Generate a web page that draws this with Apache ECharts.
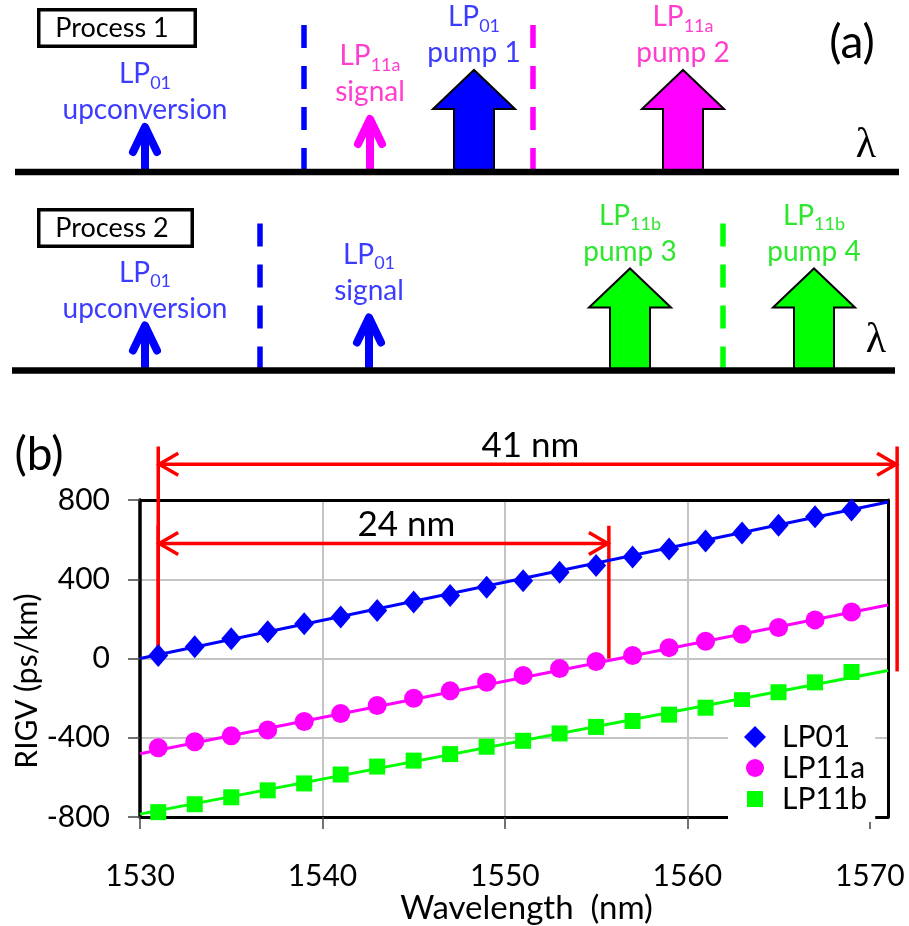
<!DOCTYPE html>
<html>
<head>
<meta charset="utf-8">
<script src="https://cdn.jsdelivr.net/npm/echarts@6/dist/echarts.min.js"></script>
<style>
    html, body {margin: 0; padding: 0; background: #fff;}
    #chart {width: 909px; height: 926px;}
</style>
</head>
<body>
<div id="chart"></div>
<script>
    // ---- (b) RIGV vs wavelength ----
    const wavelength = [1531, 1533, 1535, 1537, 1539, 1541, 1543, 1545, 1547, 1549,
        1551, 1553, 1555, 1557, 1559, 1561, 1563, 1565, 1567, 1569]
    const lp01 = [15, 60, 100, 135, 175, 210, 243, 285, 318, 360,
        392, 435, 470, 513, 553, 593, 633, 672, 715, 750]
    const lp11a = [-450, -420, -390, -360, -318, -277, -237, -200, -163, -120,
        -85, -50, -15, 15, 55, 87, 122, 157, 195, 235]
    const lp11b = [-775, -735, -700, -665, -630, -585, -545, -515, -482, -445,
        -415, -378, -345, -315, -283, -248, -210, -170, -120, -68]
    // trend lines, value at the two ends of the axis
    const fitWl = [1530, 1571]
    const lp01Fit = [0, 790]
    const lp11aFit = [-480, 270]
    const lp11bFit = [-785, -60]
    const xTicks = [1530, 1540, 1550, 1560, 1570]

    // red spans: from / to (nm), arrow level, top of bars, foot of right bar (ps/km), label centre (nm)
    const spanLabel = ['41 nm', '24 nm']
    const spanFrom = [1531, 1531]
    const spanTo = [1571.5, 1555.7]
    const spanArrow = [980, 580]
    const spanTop = [1070, 670]
    const spanFoot = [-65, 0]
    const spanLabelX = [1551.4, 1544.6]

    // ---- (a) schematic: waves along the λ line of each process ----
    const rowName = ['Process 1', 'Process 2']
    const rowFrom = [15, 12]
    const rowTo = [899, 895]
    const waveRow = [0, 0, 0, 0, 1, 1, 1, 1]
    const waveX = [145, 370, 474, 683, 145, 369, 630, 814]
    const waveMode = ['01', '11a', '01', '11a', '01', '01', '11b', '11b']
    const waveRole = ['upconversion', 'signal', 'pump 1', 'pump 2', 'upconversion', 'signal', 'pump 3', 'pump 4']
    const cutRow = [0, 0, 1, 1]
    const cutX = [304, 533, 260, 723]
    const cutMode = ['01', '11a', '01', '11b']

    const FONT = 'Lato'
    const modeFill = {'01': '#0000ff', '11a': '#ff00ff', '11b': '#00ff00'}
    const modeText = {'01': '#3c3cff', '11a': '#ff3dcf', '11b': '#2ee62e'}

    const chart = echarts.init(document.getElementById('chart'))

    function drawWave(params, api) {
        const i = api.value(2)
        const p = api.coord([api.value(0), api.value(1)])
        const x = p[0], y = p[1]
        const fill = modeFill[waveMode[i]]
        const kids = []
        let lift
        if (waveRole[i].indexOf('pump') === 0) {
            kids.push({
                type: 'polygon',
                shape: {points: [[x - 20, y], [x - 20, y - 63], [x - 41, y - 63], [x, y - 102],
                    [x + 41, y - 63], [x + 20, y - 63], [x + 20, y]]},
                style: {fill: fill, stroke: '#000', lineWidth: 2}
            })
            lift = 137
        } else {
            const h = waveRole[i] === 'signal' ? 53 : 45
            kids.push({
                type: 'line',
                shape: {x1: x, y1: y, x2: x, y2: y - h},
                style: {stroke: fill, lineWidth: 8}
            })
            kids.push({
                type: 'polyline',
                shape: {points: [[x - 12, y - h + 25], [x, y - h], [x + 12, y - h + 25]]},
                style: {stroke: fill, fill: 'none', lineWidth: 8, lineCap: 'round', lineJoin: 'round'}
            })
            lift = waveRole[i] === 'signal' ? 98 : 80
        }
        kids.push({
            type: 'text',
            x: x,
            y: y - lift,
            style: {
                text: '{m|LP}{s|' + waveMode[i] + '}\n{m|' + waveRole[i] + '}',
                fill: modeText[waveMode[i]],
                align: 'center',
                verticalAlign: 'middle',
                fontFamily: FONT,
                fontSize: 28,
                rich: {
                    m: {fontSize: 28, lineHeight: 36, fontFamily: FONT},
                    s: {fontSize: 18, lineHeight: 18, verticalAlign: 'bottom', fontFamily: FONT}
                }
            }
        })
        return {type: 'group', children: kids}
    }

    function drawCut(params, api) {
        const i = api.value(2)
        const p = api.coord([api.value(0), api.value(1)])
        return {
            type: 'line',
            shape: {x1: p[0], y1: p[1] - 147, x2: p[0], y2: p[1]},
            style: {stroke: modeFill[cutMode[i]], lineWidth: 5.5, lineDash: [23, 18]}
        }
    }

    function drawRow(params, api) {
        const a = api.coord([api.value(0), api.value(1)])
        const b = api.coord([api.value(2), api.value(1)])
        return {
            type: 'line',
            shape: {x1: a[0], y1: a[1], x2: b[0], y2: b[1]},
            style: {stroke: '#000', lineWidth: 6.5}
        }
    }

    function drawSpan(params, api) {
        const from = api.value(0), to = api.value(1), ay = api.value(2)
        const top = api.value(3), foot = api.value(4), lx = api.value(5), i = api.value(6)
        const a = api.coord([from, ay]), b = api.coord([to, ay])
        const lt = api.coord([from, top]), lb = api.coord([from, 0])
        const rt = api.coord([to, top]), rb = api.coord([to, foot])
        const lab = api.coord([lx, ay])
        const red = {stroke: '#ff0000', lineWidth: 3.5, fill: 'none'}
        const seg = (p, q) => ({type: 'line', shape: {x1: p[0], y1: p[1], x2: q[0], y2: q[1]}, style: red})
        return {
            type: 'group',
            children: [
                seg(lt, lb), seg(rt, rb), seg(a, b),
                {type: 'polyline', shape: {points: [[a[0] + 20, a[1] - 11], [a[0] + 1, a[1]], [a[0] + 20, a[1] + 11]]}, style: red},
                {type: 'polyline', shape: {points: [[b[0] - 20, b[1] - 11], [b[0] - 1, b[1]], [b[0] - 20, b[1] + 11]]}, style: red},
                {
                    type: 'text', x: lab[0], y: lab[1] - 19,
                    style: {text: spanLabel[i], fill: '#000', fontFamily: FONT, fontSize: 35, align: 'center', verticalAlign: 'middle'}
                }
            ]
        }
    }

    const pairs = vals => wavelength.map((w, i) => [w, vals[i]])
    const fitPairs = vals => fitWl.map((w, i) => [w, vals[i]])

    // 图例文字往右推，让小图标对齐
    const legendText = pad => ({fontSize: 30, lineHeight: 31, color: '#000', fontFamily: FONT, padding: [0, 0, 0, pad]})

    const option = {
        animation: false,
        textStyle: {fontFamily: FONT},
        grid: [
            {left: 140, top: 500, width: 748, height: 319},
            {left: 0, top: 172, width: 909, height: 198.5}
        ],
        xAxis: [
            {
                type: 'value', gridIndex: 0, min: 1530, max: 1571, interval: 10,
                name: 'Wavelength  (nm)', nameLocation: 'middle', nameGap: 70,
                nameTextStyle: {fontSize: 33, color: '#000', padding: [0, 0, 0, 25]},
                axisLine: {show: true, onZero: false, lineStyle: {color: '#000', width: 3}},
                axisTick: {show: true, customValues: xTicks, length: 12, lineStyle: {color: '#444', width: 1.5}},
                axisLabel: {customValues: xTicks, fontSize: 30, color: '#000', margin: 44, formatter: v => String(v)},
                splitLine: {show: true, showMinLine: false, showMaxLine: false, lineStyle: {color: '#c4c4c4', width: 2}}
            },
            {
                type: 'value', gridIndex: 0, min: 1530, max: 1571, position: 'top',
                axisLine: {show: true, onZero: false, lineStyle: {color: '#000', width: 3}},
                axisTick: {show: false}, axisLabel: {show: false}, splitLine: {show: false}
            },
            {type: 'value', gridIndex: 1, min: 0, max: 909, show: false}
        ],
        yAxis: [
            {
                type: 'value', gridIndex: 0, min: -800, max: 800, interval: 400,
                axisLine: {show: true, onZero: false, lineStyle: {color: '#000', width: 3.5}},
                axisTick: {show: true, length: 12, lineStyle: {color: '#444', width: 1.5}},
                axisLabel: {fontSize: 30, color: '#000', margin: 30},
                splitLine: {show: true, showMinLine: false, showMaxLine: false, lineStyle: {color: '#c4c4c4', width: 2}}
            },
            {
                type: 'value', gridIndex: 0, min: -800, max: 800, position: 'right',
                axisLine: {show: true, onZero: false, lineStyle: {color: '#000', width: 3}},
                axisTick: {show: false}, axisLabel: {show: false}, splitLine: {show: false}
            },
            {type: 'value', gridIndex: 1, min: 0, max: 1, inverse: true, show: false}
        ],
        legend: [
            {
                data: ['LP01'], orient: 'vertical', left: 728, top: 707, itemWidth: 22, itemHeight: 22,
                padding: [14.5, 25, 69.5, 16], backgroundColor: '#fff', textStyle: legendText(11), selectedMode: false
            },
            {
                data: ['LP11a'], orient: 'vertical', left: 746, top: 752.5, itemWidth: 18, itemHeight: 18,
                padding: 0, textStyle: legendText(13), selectedMode: false
            },
            {
                data: ['LP11b'], orient: 'vertical', left: 747, top: 783.5, itemWidth: 16, itemHeight: 16,
                padding: 0, textStyle: legendText(14), selectedMode: false
            }
        ],
        graphic: [
            {type: 'rect', shape: {x: 38.75, y: 9.75, width: 156.5, height: 36.5}, style: {fill: '#fff', stroke: '#000', lineWidth: 3.5}},
            {type: 'text', x: 112, y: 28, style: {text: rowName[0], fontFamily: FONT, fontSize: 27, fill: '#000', align: 'center', verticalAlign: 'middle'}},
            {type: 'rect', shape: {x: 38.75, y: 209.75, width: 153.5, height: 36.5}, style: {fill: '#fff', stroke: '#000', lineWidth: 3.5}},
            {type: 'text', x: 112, y: 228, style: {text: rowName[1], fontFamily: FONT, fontSize: 27, fill: '#000', align: 'center', verticalAlign: 'middle'}},
            {type: 'text', x: 852, y: 43, style: {text: '(a)', fontFamily: FONT, fontSize: 46, fill: '#000', align: 'center', verticalAlign: 'middle'}},
            {type: 'text', x: 39, y: 455, style: {text: '(b)', fontFamily: FONT, fontSize: 46, fill: '#000', align: 'center', verticalAlign: 'middle'}},
            {type: 'text', x: 866, y: 146, style: {text: 'λ', fontFamily: 'Liberation Serif', fontSize: 42, fill: '#000', align: 'center', verticalAlign: 'middle'}},
            {type: 'text', x: 876, y: 341, style: {text: 'λ', fontFamily: 'Liberation Serif', fontSize: 42, fill: '#000', align: 'center', verticalAlign: 'middle'}},
            // y 轴标题，原图偏下一点
            {
                type: 'text', x: 27, y: 681, rotation: Math.PI / 2,
                style: {text: 'RIGV (ps/km)', fontFamily: FONT, fontSize: 30, fill: '#000', align: 'center', verticalAlign: 'middle'}
            }
        ],
        series: [
            {name: 'fit01', type: 'line', data: fitPairs(lp01Fit), symbol: 'none', lineStyle: {color: '#0000ff', width: 3}, silent: true},
            {name: 'fit11a', type: 'line', data: fitPairs(lp11aFit), symbol: 'none', lineStyle: {color: '#ff00ff', width: 3}, silent: true},
            {name: 'fit11b', type: 'line', data: fitPairs(lp11bFit), symbol: 'none', lineStyle: {color: '#00ff00', width: 3}, silent: true},
            {name: 'LP01', type: 'scatter', data: pairs(lp01), symbol: 'diamond', symbolSize: [20, 23], itemStyle: {color: '#0000ff', opacity: 1}},
            {name: 'LP11a', type: 'scatter', data: pairs(lp11a), symbol: 'circle', symbolSize: 19, itemStyle: {color: '#ff00ff', opacity: 1}},
            {name: 'LP11b', type: 'scatter', data: pairs(lp11b), symbol: 'rect', symbolSize: 16, itemStyle: {color: '#00ff00', opacity: 1}},
            {
                name: 'spans', type: 'custom', xAxisIndex: 0, yAxisIndex: 0, silent: true,
                encode: {x: 0, y: 2},
                data: spanFrom.map((f, i) => [f, spanTo[i], spanArrow[i], spanTop[i], spanFoot[i], spanLabelX[i], i]),
                renderItem: drawSpan
            },
            {
                name: 'waves', type: 'custom', xAxisIndex: 2, yAxisIndex: 2, silent: true,
                data: waveX.map((x, i) => [x, waveRow[i], i]),
                renderItem: drawWave
            },
            {
                name: 'cuts', type: 'custom', xAxisIndex: 2, yAxisIndex: 2, silent: true,
                data: cutX.map((x, i) => [x, cutRow[i], i]),
                renderItem: drawCut
            },
            {
                name: 'rows', type: 'custom', xAxisIndex: 2, yAxisIndex: 2, silent: true,
                encode: {x: 0, y: 1},
                data: rowFrom.map((f, i) => [f, i, rowTo[i]]),
                renderItem: drawRow
            }
        ]
    }
    chart.setOption(option)
</script>
</body>
</html>
